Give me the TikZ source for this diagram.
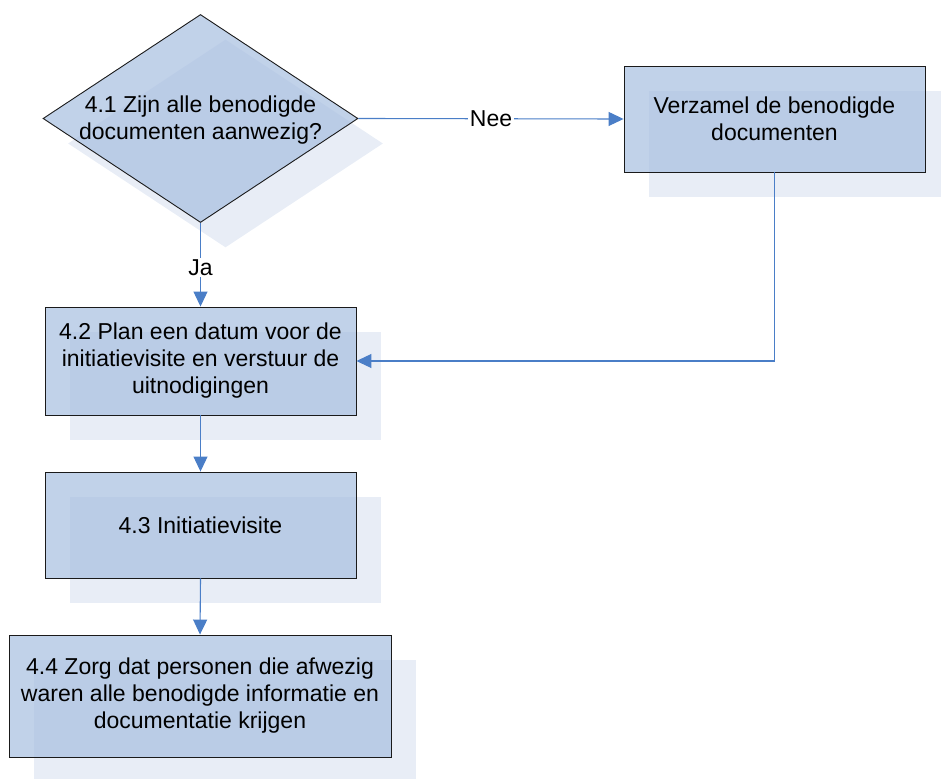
\documentclass[tikz,border=0pt]{standalone}
\usepackage{fontspec}
\setmainfont{Liberation Sans}
\usetikzlibrary{shapes.geometric,arrows.meta,shadows}
\definecolor{boxfill}{HTML}{A9C0E1}
\definecolor{shadowfill}{HTML}{E8EDF6}
\definecolor{linkblue}{HTML}{4A7EC7}
\definecolor{edgegray}{HTML}{1A1A1A}
\newcommand{\diagfont}{\fontsize{23}{27}\selectfont}
\begin{document}
\begin{tikzpicture}[x=1pt,y=-1pt,
  shapebase/.style={draw=edgegray,line width=0.9pt,fill=boxfill,fill opacity=0.72,
    text opacity=1,inner sep=0pt,
    font=\diagfont,align=center,
    drop shadow={shadow xshift=25pt,shadow yshift=-25pt,fill=shadowfill,opacity=1}},
  procbox/.style={shapebase,rectangle},
  decision/.style={shapebase,diamond},
  link/.style={draw=linkblue,line width=1.1pt,-{Triangle[length=15pt,width=14pt]}},
  linklabel/.style={fill=white,inner sep=1.5pt,font=\diagfont}]
\useasboundingbox (0,0) rectangle (941,778);

% decision 4.1
\node[decision,minimum width=315pt,minimum height=208pt,
  label={[align=center,font=\diagfont,yshift=-2pt]center:4.1 Zijn alle benodigde\\documenten aanwezig?}]
  (d41) at (200.5,118.5) {};

% process boxes
\node[procbox,minimum width=301pt,minimum height=106pt] (coll) at (774.5,119)
  {Verzamel de benodigde\\documenten};
\node[procbox,minimum width=311pt,minimum height=108pt] (b42) at (200.5,361)
  {4.2 Plan een datum voor de\\initiatievisite en verstuur de\\uitnodigingen};
\node[procbox,minimum width=311pt,minimum height=106pt] (b43) at (200.5,525)
  {4.3 Initiatievisite};
\node[procbox,minimum width=382pt,minimum height=122pt] (b44) at (200,696)
  {4.4 Zorg dat personen die afwezig\\waren alle benodigde informatie en\\documentatie krijgen};

% connectors
\draw[link] (d41.east) -- node[linklabel] (nee) {Nee} (coll.west);
\draw[link] (d41.south) -- node[linklabel,pos=0.53] (ja) {Ja} (b42.north);
\draw[link] (coll.south) |- (b42.east);
\draw[link] (b42.south) -- (b43.north);
\draw[link] (b43.south) -- (b44.north);
\end{tikzpicture}
\end{document}
